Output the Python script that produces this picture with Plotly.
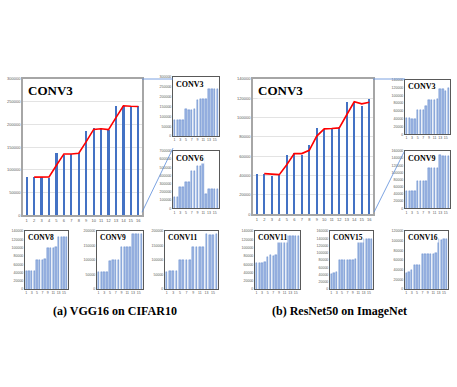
import plotly.graph_objects as go

# categories (pruning steps)
steps = list(range(1, 17))

# VGG16 on CIFAR10
vgg_conv3 = [84000, 84000, 84000, 82000, 137000, 133000, 135000, 137000,
             186000, 191000, 191000, 187000, 241000, 241000, 240000, 240000]
vgg_conv3_trend = [None, 84000, 84500, 84500, 110000, 135000, 135000, 136500,
                   162000, 189000, 190500, 188500, 215000, 241000, 240000, 239500]
vgg_conv6 = [134000, 134000, 257000, 255000, 324000, 324000, 450000, 450000,
             518000, 518000, 632000, 178000, 233000, 233000, 233000, 233000]
vgg_conv8 = [43500, 43500, 43500, 45000, 69600, 69600, 69600, 72700,
             98800, 98000, 98800, 100400, 126500, 125000, 125000, 126500]
vgg_conv9 = [57600, 60000, 60000, 60000, 96000, 99400, 99400, 99400,
             143500, 144600, 144600, 144600, 188700, 188700, 188700, 188700]
vgg_conv11 = [59000, 62000, 62000, 62000, 101700, 101700, 101700, 101700,
              144600, 144600, 144600, 144600, 188700, 187600, 186500, 188700]

# ResNet50 on ImageNet
res_conv3 = [42000, 42000, 40000, 40600, 61400, 63100, 61800, 71700,
             89400, 88400, 89100, 90400, 115700, 116400, 112300, 119500]
res_conv3_trend = [None, 42000, 41300, 41000, 51200, 62800, 62800, 66200,
                   80900, 88400, 88700, 89400, 103000, 116400, 114300, 116000]
res_conv9 = [47500, 47500, 47000, 48400, 75800, 74900, 75800, 76700,
             111400, 112300, 113000, 113000, 148000, 145000, 146500, 147000]
res_conv11 = [62600, 62600, 64000, 65000, 78500, 82000, 80700, 83000,
              129000, 129000, 129000, 129000, 129000, 129000, 129000, 129000]
res_conv15 = [41000, 44700, 47300, 80000, 80000, 80900, 81700, 80900,
              80900, 83400, 140200, 140200, 138500, 138500, 136800, 136800]
res_conv16 = [33000, 35500, 39400, 50300, 49000, 49000, 73500, 73500,
              73500, 73500, 73500, 74800, 104000, 101300, 102600, 102600]

W, H = 457, 387
SERIF = "Liberation Serif"
SANS = "Liberation Sans"

fig = go.Figure()


def px_x(v):
    return v / W


def px_y(v):
    return 1 - v / H


def add_panel(i, box, vals, ymax, dtick, title, big=False, trend=None,
              tsize=8):
    x0, y0, x1, y1 = box
    xa = "x" if i == 1 else f"x{i}"
    ya = "y" if i == 1 else f"y{i}"
    xk = "xaxis" if i == 1 else f"xaxis{i}"
    yk = "yaxis" if i == 1 else f"yaxis{i}"

    if big:
        fig.add_trace(go.Bar(x=steps, y=vals, xaxis=xa, yaxis=ya, width=0.3,
                             marker=dict(color="#4472C4", line_width=0),
                             showlegend=False))
    else:
        fig.add_trace(go.Bar(x=steps, y=vals, xaxis=xa, yaxis=ya, width=0.5,
                             marker=dict(color="#9DB5E3",
                                         line=dict(color="#4F7BC8", width=0.4)),
                             showlegend=False))
    if trend is not None:
        fig.add_trace(go.Scatter(x=steps, y=trend, xaxis=xa, yaxis=ya,
                                 mode="lines", line=dict(color="#FF0000", width=1.6),
                                 showlegend=False))

    tick_font = dict(family=SANS, size=4 if big else 3.5, color="#595959")
    fig.layout[xk] = dict(domain=[px_x(x0), px_x(x1)], anchor=ya,
                          range=[0.5, 16.5],
                          tickvals=steps if big else steps[::2],
                          tickangle=0, ticks="", tickfont=tick_font, showgrid=False,
                          zeroline=False, showline=True, mirror=True,
                          linecolor="#A6A6A6" if big else "#595959",
                          linewidth=1.5 if big else 1, fixedrange=True)
    fig.layout[yk] = dict(domain=[px_y(y1), px_y(y0)], anchor=xa,
                          range=[0, ymax], dtick=dtick, tickformat="d",
                          ticks="", tickfont=tick_font,
                          showgrid=big, gridcolor="#E3E3E3", gridwidth=0.6,
                          zeroline=False, showline=True, mirror=True,
                          linecolor="#A6A6A6" if big else "#595959",
                          linewidth=1.5 if big else 1, fixedrange=True)
    fig.add_annotation(text=f"<b>{title}</b>", xref="paper", yref="paper",
                       x=px_x(x0 + (4 if big else 2)), y=px_y(y0 + (3 if big else 1.5)),
                       xanchor="left", yanchor="top", showarrow=False,
                       font=dict(family=SERIF, size=tsize, color="black"),
                       bgcolor="white", borderpad=0)


# left block: VGG16
add_panel(1, (23, 77, 142, 215), vgg_conv3, 300000, 50000, "CONV3", big=True,
          trend=vgg_conv3_trend, tsize=13)
add_panel(2, (173, 75, 219, 135), vgg_conv3, 300000, 50000, "CONV3", tsize=8)
add_panel(3, (173, 150, 219, 208), vgg_conv6, 700000, 100000, "CONV6", tsize=8)
add_panel(4, (25, 231, 68, 290), vgg_conv8, 140000, 20000, "CONV8", tsize=7.5)
add_panel(5, (97, 231, 143, 290), vgg_conv9, 200000, 50000, "CONV9", tsize=7.5)
add_panel(6, (165, 231, 218, 290), vgg_conv11, 200000, 50000, "CONV11", tsize=7.5)

# right block: ResNet50
add_panel(7, (253, 77, 373, 214), res_conv3, 140000, 20000, "CONV3", big=True,
          trend=res_conv3_trend, tsize=13)
add_panel(8, (405, 78, 450, 133), res_conv3, 140000, 20000, "CONV3", tsize=8)
add_panel(9, (405, 150, 450, 208), res_conv9, 160000, 20000, "CONV9", tsize=8)
add_panel(10, (255, 231, 300, 290), res_conv11, 140000, 20000, "CONV11", tsize=7.5)
add_panel(11, (330, 231, 373, 290), res_conv15, 160000, 20000, "CONV15", tsize=7.5)
add_panel(12, (405, 231, 448, 290), res_conv16, 120000, 20000, "CONV16", tsize=7.5)

# zoom connector lines
for (ax0, ay0, ax1, ay1) in [(142, 77, 173, 77), (142, 212, 173, 147),
                             (373, 77, 405, 77), (374, 212, 404, 151)]:
    fig.add_shape(type="line", xref="paper", yref="paper",
                  x0=px_x(ax0), y0=px_y(ay0), x1=px_x(ax1), y1=px_y(ay1),
                  line=dict(color="#5B8BD9", width=0.8))

# captions
fig.add_annotation(text="<b>(a) VGG16 on CIFAR10</b>", xref="paper", yref="paper",
                   x=px_x(115), y=px_y(312), xanchor="center", yanchor="middle",
                   showarrow=False, font=dict(family=SERIF, size=12, color="black"))
fig.add_annotation(text="<b>(b) ResNet50 on ImageNet</b>", xref="paper", yref="paper",
                   x=px_x(339), y=px_y(312), xanchor="center", yanchor="middle",
                   showarrow=False, font=dict(family=SERIF, size=12, color="black"))

fig.update_layout(width=W, height=H, margin=dict(l=0, r=0, t=0, b=0),
                  paper_bgcolor="white", plot_bgcolor="white",
                  bargap=0, showlegend=False)

# page body has a default margin; drop it so the figure sits at 0,0
fig.write_html("out.html", config={"displayModeBar": False},
               post_script="document.body.style.margin='0';")
